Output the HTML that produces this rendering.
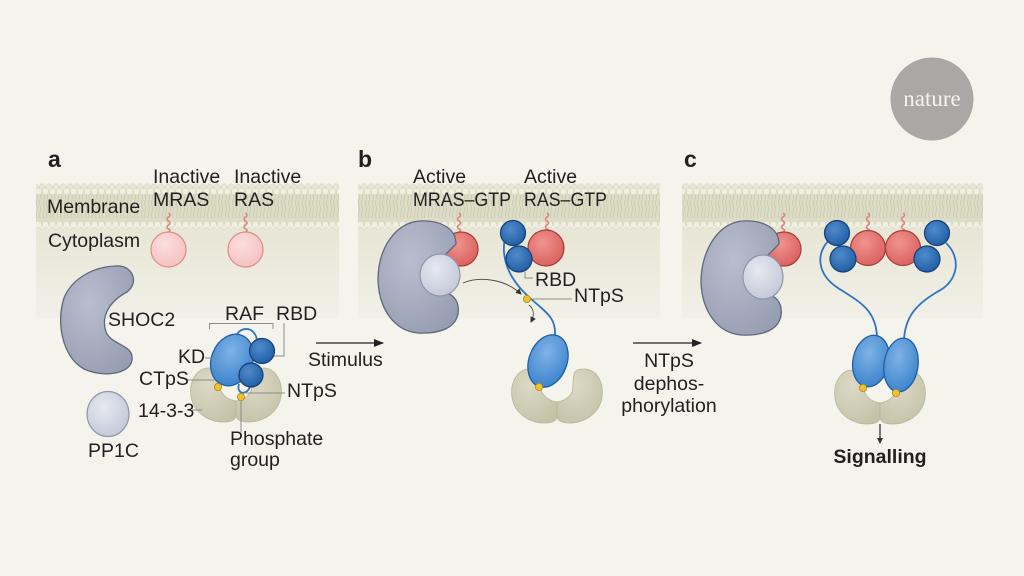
<!DOCTYPE html>
<html><head><meta charset="utf-8"><style>
html,body{margin:0;padding:0;background:#f4f3ec;}
svg{display:block}
text{font-family:"Liberation Sans",sans-serif;fill:#231f20;font-size:19.5px}
.b{font-weight:bold}
</style></head><body>
<svg width="1024" height="576" viewBox="0 0 1024 576" xmlns="http://www.w3.org/2000/svg">
<defs>
<pattern id="mem" patternUnits="userSpaceOnUse" x="0" y="183" width="7" height="46">
<rect x="0" y="4" width="7" height="38" fill="#dddcc6"/>
<path d="M2 11 q1 3 0 6 q-1 3 0 6 q1 3 0 6 q-1 3 0 6" stroke="#cccab0" stroke-width="0.8" fill="none"/>
<path d="M5 11 q1 3 0 6 q-1 3 0 6 q1 3 0 6 q-1 3 0 6" stroke="#cccab0" stroke-width="0.8" fill="none"/>
<circle cx="0" cy="4" r="3.2" fill="#e8e7d6" stroke="#d0cfb5" stroke-width="0.5"/>
<circle cx="7" cy="4" r="3.2" fill="#e8e7d6" stroke="#d0cfb5" stroke-width="0.5"/>
<circle cx="3.5" cy="8.5" r="3.3" fill="#f0efe2" stroke="#cfceb4" stroke-width="0.5"/>
<circle cx="3.5" cy="41.5" r="3.3" fill="#f0efe2" stroke="#cfceb4" stroke-width="0.5"/>
</pattern>
<linearGradient id="cyto" x1="0" y1="0" x2="0" y2="1">
<stop offset="0" stop-color="#e7e6d5"/><stop offset="1" stop-color="#f1f0e8"/>
</linearGradient>
<radialGradient id="kd" cx="0.4" cy="0.35" r="0.7"><stop offset="0" stop-color="#7eb3e6"/><stop offset="1" stop-color="#3c82cc"/></radialGradient>
<radialGradient id="rbd" cx="0.4" cy="0.35" r="0.7"><stop offset="0" stop-color="#4f8bcb"/><stop offset="1" stop-color="#1f5ca3"/></radialGradient>
<radialGradient id="red" cx="0.4" cy="0.35" r="0.7"><stop offset="0" stop-color="#f0948f"/><stop offset="1" stop-color="#d95f5c"/></radialGradient>
<radialGradient id="pink" cx="0.4" cy="0.35" r="0.7"><stop offset="0" stop-color="#fbdede"/><stop offset="1" stop-color="#f4c0c0"/></radialGradient>
<radialGradient id="grey" cx="0.4" cy="0.35" r="0.8"><stop offset="0" stop-color="#b9bece"/><stop offset="1" stop-color="#949bb0"/></radialGradient>
<radialGradient id="pp" cx="0.4" cy="0.35" r="0.7"><stop offset="0" stop-color="#e6e9f0"/><stop offset="1" stop-color="#c3c8d7"/></radialGradient>
<radialGradient id="ft" cx="0.4" cy="0.3" r="0.8"><stop offset="0" stop-color="#dcdac6"/><stop offset="1" stop-color="#c4c1a6"/></radialGradient>
<marker id="ah" markerWidth="10" markerHeight="8" refX="9" refY="4" orient="auto" markerUnits="userSpaceOnUse"><path d="M0 0 L10 4 L0 8 Z" fill="#222"/></marker>
<marker id="ahs" markerWidth="6" markerHeight="6" refX="5" refY="3" orient="auto" markerUnits="userSpaceOnUse"><path d="M0 0 L6 3 L0 6 Z" fill="#333"/></marker>
<g id="ftt">
<path d="M-27 0 C-40 0 -47 14 -45 28 C-43 44 -28 54 -12 54 C-4 54 0 51 0 47 L0 33 C-6 32 -12 29 -15 23 C-17 17 -15 8 -18 3 C-20 0 -24 0 -27 0 Z" fill="url(#ft)" stroke="#b7b499" stroke-width="0.8"/>
<path d="M27 0 C40 0 47 14 45 28 C43 44 28 54 12 54 C4 54 0 51 0 47 L0 33 C6 32 12 29 15 23 C17 17 15 8 18 3 C20 0 24 0 27 0 Z" fill="url(#ft)" stroke="#b7b499" stroke-width="0.8"/>
</g>
<path id="sq" d="M0 0 q3 2 0 4 q-3 2 0 4 q3 2 0 4 q-3 2 0 4 q3 1 0 3" stroke="#e0807c" stroke-width="1.5" fill="none"/>
</defs>

<!-- nature logo -->
<circle cx="932" cy="99" r="41.5" fill="#a9a8a4"/>
<text x="932" y="106" text-anchor="middle" style="font-family:'Liberation Serif',serif;font-size:23px;fill:#f4f3ef">nature</text>

<!-- panels background -->
<rect x="36" y="228" width="303" height="90" fill="url(#cyto)"/>
<rect x="358" y="228" width="302" height="90" fill="url(#cyto)"/>
<rect x="682" y="228" width="301" height="90" fill="url(#cyto)"/>
<rect x="36" y="183" width="303" height="46" fill="url(#mem)"/>
<rect x="358" y="183" width="302" height="46" fill="url(#mem)"/>
<rect x="682" y="183" width="301" height="46" fill="url(#mem)"/>

<!-- ===== Panel a ===== -->
<text x="48" y="167" class="b" style="font-size:23px">a</text>
<text x="153" y="183">Inactive</text>
<text x="153" y="206">MRAS</text>
<text x="234" y="183">Inactive</text>
<text x="234" y="206">RAS</text>
<text x="47" y="213">Membrane</text>
<text x="48" y="247">Cytoplasm</text>
<use href="#sq" x="168.5" y="213"/>
<use href="#sq" x="245.5" y="213"/>
<circle cx="168.5" cy="249.5" r="17.5" fill="url(#pink)" stroke="#e08886" stroke-width="1.2"/>
<circle cx="245.5" cy="249.5" r="17.5" fill="url(#pink)" stroke="#e08886" stroke-width="1.2"/>

<path d="M115 266 C132 264 140 282 127 292 C112 300 100 314 106 332 C112 346 134 344 132 360 C130 374 104 378 84 369 C62 357 56 322 64 298 C72 278 94 267 115 266 Z" fill="url(#grey)" stroke="#5f677c" stroke-width="1.3"/>
<text x="108" y="326">SHOC2</text>
<ellipse cx="108" cy="414" rx="21" ry="22.5" fill="url(#pp)" stroke="#8f96ab" stroke-width="1.2"/>
<text x="88" y="457">PP1C</text>

<!-- RAF bracket -->
<path d="M209.5 329 V323.5 H273 V329" stroke="#8c8c8c" stroke-width="1" fill="none"/>
<text x="225" y="320">RAF</text>
<text x="276" y="320">RBD</text>
<path d="M284 323 V356 H268" stroke="#8c8c8c" stroke-width="1" fill="none"/>

<use href="#ftt" x="236" y="368"/>
<path d="M236 336 C241 325 256 327 257 341" stroke="#2f74c2" stroke-width="1.8" fill="none"/>
<ellipse cx="232" cy="360" rx="20.5" ry="26.5" transform="rotate(22 232 360)" fill="url(#kd)" stroke="#1f5fa6" stroke-width="1.3"/>
<path d="M239 384 C236 394 246 396 250 387" stroke="#2f74c2" stroke-width="1.8" fill="none"/>
<circle cx="251" cy="375" r="12" fill="url(#rbd)" stroke="#143f78" stroke-width="1.2"/>
<circle cx="262" cy="351" r="12.5" fill="url(#rbd)" stroke="#143f78" stroke-width="1.2"/>
<path d="M205 358 H220" stroke="#8c8c8c" stroke-width="1"/>
<text x="178" y="363">KD</text>
<path d="M187 380 H214" stroke="#8c8c8c" stroke-width="1"/>
<text x="139" y="385">CTpS</text>
<path d="M244 393 H285" stroke="#8c8c8c" stroke-width="1"/>
<text x="287" y="397">NTpS</text>
<path d="M192 410 H202" stroke="#8c8c8c" stroke-width="1"/>
<text x="138" y="417">14-3-3</text>
<path d="M241 400 V432" stroke="#8c8c8c" stroke-width="1"/>
<circle cx="218" cy="387" r="3.6" fill="#f0c232" stroke="#b08a12" stroke-width="0.8"/>
<circle cx="241" cy="397" r="3.6" fill="#f0c232" stroke="#b08a12" stroke-width="0.8"/>
<text x="230" y="445">Phosphate</text>
<text x="230" y="466">group</text>

<path d="M316 343 H383" stroke="#222" stroke-width="1.3" marker-end="url(#ah)"/>
<text x="308" y="366">Stimulus</text>

<!-- ===== Panel b ===== -->
<text x="358" y="167" class="b" style="font-size:23px">b</text>
<text x="413" y="183">Active</text>
<text x="413" y="206" textLength="98" lengthAdjust="spacingAndGlyphs">MRAS–GTP</text>
<text x="524" y="183">Active</text>
<text x="524" y="206" textLength="83" lengthAdjust="spacingAndGlyphs">RAS–GTP</text>
<use href="#sq" x="459" y="213"/>
<use href="#sq" x="547" y="213"/>
<circle cx="461" cy="249" r="17" fill="url(#red)" stroke="#a83c3a" stroke-width="1.2"/>
<path d="M420 221 C440 220 456 228 456 244 L440 260 L440 292 C452 292 460 300 458 314 C455 328 440 334 418 333 C395 331 379 310 378 280 C378 248 396 222 420 221 Z" fill="url(#grey)" stroke="#5f677c" stroke-width="1.3"/>
<ellipse cx="440" cy="275" rx="20" ry="21" fill="url(#pp)" stroke="#8f96ab" stroke-width="1.2"/>
<circle cx="546" cy="248" r="18" fill="url(#red)" stroke="#a83c3a" stroke-width="1.2"/>
<path d="M505 237 C500 262 512 282 530 298 C548 314 556 318 555 336" stroke="#2f74c2" stroke-width="1.8" fill="none"/>
<circle cx="513" cy="233" r="12.5" fill="url(#rbd)" stroke="#143f78" stroke-width="1.2"/>
<circle cx="519" cy="259" r="13" fill="url(#rbd)" stroke="#143f78" stroke-width="1.2"/>
<path d="M525 272 V278 H533" stroke="#8c8c8c" stroke-width="1" fill="none"/>
<text x="535" y="286">RBD</text>
<path d="M531 299 H572" stroke="#8c8c8c" stroke-width="1"/>
<text x="574" y="302">NTpS</text>
<path d="M463 283 C480 276 505 279 521 294" stroke="#444" stroke-width="0.9" fill="none" marker-end="url(#ahs)"/>
<path d="M529 305 C535 310 534 316 531 322" stroke="#444" stroke-width="0.9" fill="none" marker-end="url(#ahs)"/>
<circle cx="527" cy="299" r="3.6" fill="#f0c232" stroke="#b08a12" stroke-width="0.8"/>

<use href="#ftt" x="557" y="369"/>
<ellipse cx="548" cy="361" rx="19" ry="27" transform="rotate(20 548 361)" fill="url(#kd)" stroke="#1f5fa6" stroke-width="1.3"/>
<circle cx="539" cy="387" r="3.6" fill="#f0c232" stroke="#b08a12" stroke-width="0.8"/>

<path d="M633 343 H701" stroke="#222" stroke-width="1.3" marker-end="url(#ah)"/>
<text x="669" y="367" text-anchor="middle">NTpS</text>
<text x="669" y="390" text-anchor="middle">dephos-</text>
<text x="669" y="412" text-anchor="middle">phorylation</text>

<!-- ===== Panel c ===== -->
<text x="684" y="167" class="b" style="font-size:23px">c</text>
<use href="#sq" x="783" y="213"/>
<use href="#sq" x="868" y="213"/>
<use href="#sq" x="903" y="213"/>
<circle cx="784" cy="249" r="17" fill="url(#red)" stroke="#a83c3a" stroke-width="1.2"/>
<path d="M743 221 C763 220 779 228 779 244 L763 260 L763 294 C775 294 783 302 781 316 C778 330 763 336 741 335 C718 333 702 312 701 282 C701 250 719 222 743 221 Z" fill="url(#grey)" stroke="#5f677c" stroke-width="1.3"/>
<ellipse cx="763" cy="277" rx="20" ry="22" fill="url(#pp)" stroke="#8f96ab" stroke-width="1.2"/>

<path d="M829 240 C815 255 818 275 838 288 C860 302 876 310 877 337" stroke="#2f74c2" stroke-width="1.8" fill="none"/>
<path d="M946 243 C962 258 958 282 937 292 C915 305 905 318 904 340" stroke="#2f74c2" stroke-width="1.8" fill="none"/>
<circle cx="868" cy="248" r="17.5" fill="url(#red)" stroke="#a83c3a" stroke-width="1.2"/>
<circle cx="903" cy="248" r="17.5" fill="url(#red)" stroke="#a83c3a" stroke-width="1.2"/>
<circle cx="837" cy="233" r="12.5" fill="url(#rbd)" stroke="#143f78" stroke-width="1.2"/>
<circle cx="843" cy="259" r="13" fill="url(#rbd)" stroke="#143f78" stroke-width="1.2"/>
<circle cx="937" cy="233" r="12.5" fill="url(#rbd)" stroke="#143f78" stroke-width="1.2"/>
<circle cx="927" cy="259" r="13" fill="url(#rbd)" stroke="#143f78" stroke-width="1.2"/>

<use href="#ftt" x="880" y="370"/>
<ellipse cx="871" cy="361" rx="18" ry="26" transform="rotate(12 871 361)" fill="url(#kd)" stroke="#1f5fa6" stroke-width="1.3"/>
<ellipse cx="901" cy="365" rx="17" ry="27" transform="rotate(8 901 365)" fill="url(#kd)" stroke="#1f5fa6" stroke-width="1.3"/>
<circle cx="863" cy="388" r="3.6" fill="#f0c232" stroke="#b08a12" stroke-width="0.8"/>
<circle cx="896" cy="393" r="3.6" fill="#f0c232" stroke="#b08a12" stroke-width="0.8"/>
<path d="M880 424 V443" stroke="#222" stroke-width="1.2" marker-end="url(#ahs)"/>
<text x="880" y="463" text-anchor="middle" class="b">Signalling</text>
</svg>
</body></html>
